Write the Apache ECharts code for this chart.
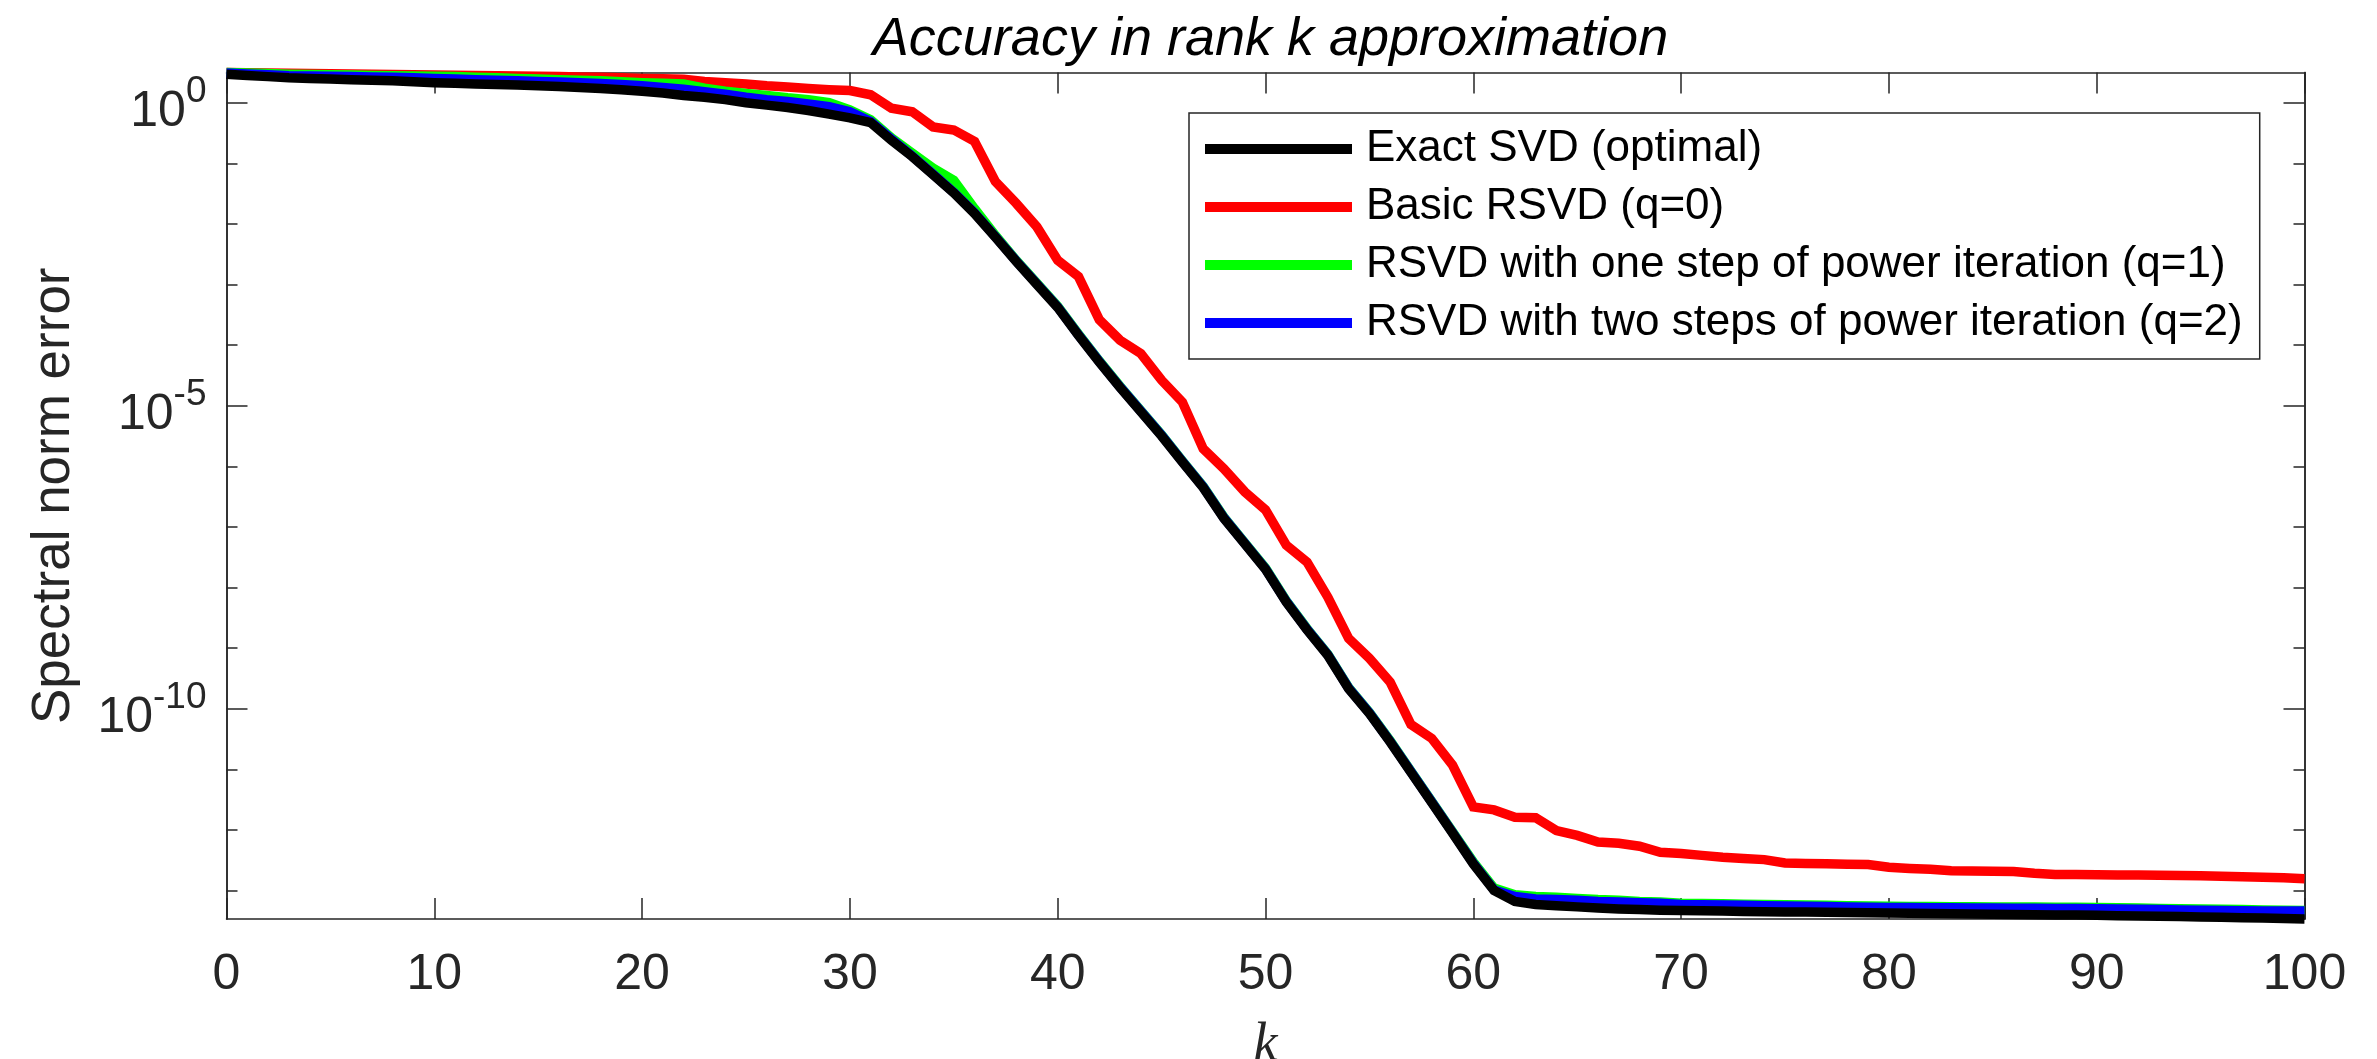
<!DOCTYPE html>
<html>
<head>
<meta charset="utf-8">
<title>Accuracy in rank k approximation</title>
<script src="https://cdn.jsdelivr.net/npm/echarts@6/dist/echarts.min.js"></script>
<style>
    html, body { margin: 0; padding: 0; background: #fff; }
    #chart { width: 2377px; height: 1059px; }
</style>
</head>
<body>
<div id="chart"></div>
<script>
// rank k = 0..100
var ranks = [];
for (var i = 0; i <= 100; i++) { ranks.push(i); }

// log10 of the spectral norm error for every k
var exactLog10 = [
    0.47, 0.45, 0.43, 0.41, 0.40, 0.39, 0.38, 0.37, 0.36, 0.345,
    0.33, 0.32, 0.31, 0.30, 0.29, 0.278, 0.265, 0.25, 0.235, 0.215,
    0.19, 0.16, 0.12, 0.09, 0.05, 0.0, -0.04, -0.08, -0.13, -0.19,
    -0.25, -0.33, -0.62, -0.89, -1.19, -1.49, -1.83, -2.22, -2.62, -3.0,
    -3.38, -3.84, -4.28, -4.70, -5.10, -5.50, -5.93, -6.35, -6.86, -7.28,
    -7.70, -8.24, -8.70, -9.12, -9.67, -10.08, -10.55, -11.05, -11.55, -12.05,
    -12.56, -13.0, -13.18, -13.23, -13.25, -13.27, -13.29, -13.305, -13.315, -13.325,
    -13.33, -13.335, -13.34, -13.345, -13.35, -13.353, -13.356, -13.36, -13.363, -13.366,
    -13.37, -13.374, -13.378, -13.382, -13.386, -13.39, -13.394, -13.398, -13.402, -13.406,
    -13.41, -13.415, -13.42, -13.425, -13.43, -13.436, -13.442, -13.448, -13.455, -13.462,
    -13.47
];
var basicLog10 = [
    0.498, 0.495, 0.49, 0.486, 0.482, 0.478, 0.474, 0.47, 0.466, 0.462,
    0.458, 0.454, 0.45, 0.445, 0.44, 0.435, 0.43, 0.424, 0.418, 0.41,
    0.40, 0.395, 0.385, 0.35, 0.33, 0.31, 0.28, 0.26, 0.235, 0.215,
    0.20, 0.13, -0.09, -0.15, -0.40, -0.45, -0.64, -1.30, -1.66, -2.05,
    -2.60, -2.87, -3.58, -3.92, -4.14, -4.58, -4.94, -5.71, -6.04, -6.42,
    -6.72, -7.30, -7.58, -8.16, -8.84, -9.17, -9.56, -10.26, -10.49, -10.93,
    -11.62, -11.67, -11.79, -11.80, -12.01, -12.09, -12.20, -12.22, -12.27, -12.37,
    -12.39, -12.42, -12.45, -12.47, -12.49, -12.545, -12.555, -12.56, -12.565, -12.57,
    -12.615, -12.635, -12.65, -12.675, -12.68, -12.683, -12.685, -12.715, -12.735, -12.737,
    -12.74, -12.743, -12.746, -12.75, -12.752, -12.757, -12.765, -12.772, -12.78, -12.79,
    -12.806
];
var power1Log10 = [
    0.498, 0.49, 0.48, 0.47, 0.465, 0.46, 0.455, 0.45, 0.445, 0.44,
    0.435, 0.43, 0.42, 0.41, 0.40, 0.39, 0.38, 0.37, 0.36, 0.345,
    0.33, 0.32, 0.31, 0.24, 0.19, 0.15, 0.12, 0.08, 0.05, 0.0,
    -0.12, -0.28, -0.58, -0.83, -1.08, -1.28, -1.75, -2.19, -2.60, -2.98,
    -3.36, -3.82, -4.26, -4.68, -5.08, -5.48, -5.91, -6.33, -6.84, -7.26,
    -7.68, -8.22, -8.68, -9.10, -9.65, -10.06, -10.53, -11.03, -11.53, -12.03,
    -12.53, -12.96, -13.07, -13.10, -13.11, -13.13, -13.15, -13.16, -13.18, -13.19,
    -13.21, -13.215, -13.22, -13.225, -13.23, -13.235, -13.24, -13.245, -13.25, -13.255,
    -13.26, -13.262, -13.264, -13.266, -13.268, -13.27, -13.272, -13.274, -13.276, -13.278,
    -13.28, -13.285, -13.29, -13.295, -13.30, -13.305, -13.31, -13.315, -13.32, -13.325,
    -13.33
];
var power2Log10 = [
    0.49, 0.475, 0.46, 0.445, 0.44, 0.435, 0.43, 0.425, 0.42, 0.41,
    0.40, 0.39, 0.38, 0.37, 0.36, 0.35, 0.34, 0.33, 0.315, 0.30,
    0.28, 0.25, 0.22, 0.18, 0.14, 0.09, 0.05, 0.02, -0.02, -0.066,
    -0.15, -0.31, -0.60, -0.88, -1.18, -1.48, -1.82, -2.21, -2.61, -2.99,
    -3.37, -3.83, -4.27, -4.69, -5.09, -5.49, -5.92, -6.34, -6.85, -7.27,
    -7.69, -8.23, -8.69, -9.11, -9.66, -10.07, -10.54, -11.04, -11.54, -12.04,
    -12.55, -12.99, -13.10, -13.14, -13.15, -13.16, -13.18, -13.19, -13.20, -13.21,
    -13.23, -13.235, -13.24, -13.245, -13.25, -13.255, -13.26, -13.265, -13.27, -13.275,
    -13.28, -13.282, -13.284, -13.286, -13.288, -13.29, -13.292, -13.294, -13.296, -13.298,
    -13.30, -13.305, -13.31, -13.315, -13.32, -13.325, -13.33, -13.333, -13.336, -13.338,
    -13.34
];

var seriesNames = [
    'Exact SVD (optimal)',
    'Basic RSVD (q=0)',
    'RSVD with one step of power iteration (q=1)',
    'RSVD with two steps of power iteration (q=2)'
];
var seriesColors = ['#000000', '#ff0000', '#00ff00', '#0000ff'];
var seriesZ = [6, 3, 4, 5];

var xTicks = [0, 10, 20, 30, 40, 50, 60, 70, 80, 90, 100];
var yLabelExps = [0, -5, -10];
var yMinorExps = [0, -1, -2, -3, -4, -5, -6, -7, -8, -9, -10, -11, -12, -13];

var allLogs = [exactLog10, basicLog10, power1Log10, power2Log10];
var flat = [].concat.apply([], allLogs);
var yMin = Math.pow(10, Math.min.apply(null, flat));
var yMax = Math.pow(10, Math.max.apply(null, flat));

function toPoints(logs) {
    return ranks.map(function (k, i) { return [k, Math.pow(10, logs[i])]; });
}
function pow10(list) {
    return list.map(function (e) { return Math.pow(10, e); });
}

var axisColor = '#262626';
var font = 'Liberation Sans, Arial, Helvetica, sans-serif';

function xAxisDef(position, showLabel) {
    return {
        type: 'value',
        position: position,
        min: xTicks[0],
        max: xTicks[xTicks.length - 1],
        interval: 10,
        axisLine: { show: true, onZero: false, lineStyle: { color: axisColor, width: 1.5 } },
        axisTick: { show: true, inside: true, length: 21, lineStyle: { color: axisColor, width: 1.5 } },
        axisLabel: {
            show: showLabel,
            margin: 31,
            color: axisColor,
            fontFamily: font,
            fontSize: 50,
            lineHeight: 50
        },
        splitLine: { show: false }
    };
}

function yAxisDef(position, exps, tickLen, showLabel) {
    return {
        type: 'log',
        logBase: 10,
        position: position,
        min: yMin,
        max: yMax,
        axisLine: { show: true, onZero: false, lineStyle: { color: axisColor, width: 1.5 } },
        axisTick: {
            show: true, inside: true, length: tickLen,
            customValues: pow10(exps),
            lineStyle: { color: axisColor, width: 1.5 }
        },
        axisLabel: {
            show: showLabel,
            customValues: pow10(yLabelExps),
            margin: 20,
            color: axisColor,
            fontFamily: font,
            fontSize: 50,
            formatter: function (v) {
                var e = Math.round(Math.log10(v));
                return '{b|10}{s|' + e + '}';
            },
            rich: {
                b: { fontFamily: font, fontSize: 50, height: 60, lineHeight: 80,
                     color: axisColor, verticalAlign: 'bottom' },
                s: { fontFamily: font, fontSize: 37, height: 58, lineHeight: 80,
                     color: axisColor, verticalAlign: 'top' }
            }
        },
        splitLine: { show: false },
        minorTick: { show: false }
    };
}

var yLeft = yAxisDef('left', yLabelExps, 21, true);
yLeft.name = 'Spectral norm error';
yLeft.nameLocation = 'middle';
yLeft.nameGap = 146;
yLeft.nameTextStyle = { color: axisColor, fontFamily: font, fontSize: 53, lineHeight: 53 };

var xBottom = xAxisDef('bottom', true);
xBottom.name = 'k';
xBottom.nameLocation = 'middle';
xBottom.nameGap = 100;
xBottom.nameTextStyle = {
    color: axisColor, fontFamily: 'Liberation Serif, Times New Roman, serif',
    fontStyle: 'italic', fontSize: 54, lineHeight: 54
};

var series = seriesNames.map(function (name, i) {
    return {
        name: name,
        type: 'line',
        xAxisIndex: 0,
        yAxisIndex: 0,
        data: toPoints(allLogs[i]),
        showSymbol: false,
        symbol: 'none',
        clip: false,
        z: seriesZ[i],
        color: seriesColors[i],
        lineStyle: { color: seriesColors[i], width: 9.5, join: 'miter' }
    };
});

var option = {
    animation: false,
    backgroundColor: '#ffffff',
    title: {
        text: 'Accuracy in rank k approximation',
        left: 1265.5,
        top: 8,
        textAlign: 'center',
        textStyle: {
            color: '#000000', fontFamily: font, fontStyle: 'italic',
            fontWeight: 'normal', fontSize: 54, lineHeight: 54
        }
    },
    legend: {
        orient: 'vertical',
        left: 1189,
        top: 113,
        padding: [14, 17, 14, 16],
        itemGap: 14,
        itemWidth: 147,
        itemHeight: 10,
        icon: 'rect',
        backgroundColor: '#ffffff',
        borderColor: axisColor,
        borderWidth: 1.5,
        borderRadius: 0,
        data: seriesNames,
        textStyle: {
            color: '#000000', fontFamily: font, fontSize: 44, lineHeight: 44,
            padding: [0, 0, 0, 9]
        }
    },
    grid: {
        left: 226.5, right: 72.5, top: 72.5, bottom: 140,
        containLabel: false, outerBoundsMode: 'none'
    },
    xAxis: [xBottom, xAxisDef('top', false)],
    yAxis: [
        yLeft,
        yAxisDef('left', yMinorExps, 11, false),
        yAxisDef('right', yLabelExps, 21, false),
        yAxisDef('right', yMinorExps, 11, false)
    ],
    series: series
};

var chart = echarts.init(document.getElementById('chart'));
chart.setOption(option);
</script>
</body>
</html>
